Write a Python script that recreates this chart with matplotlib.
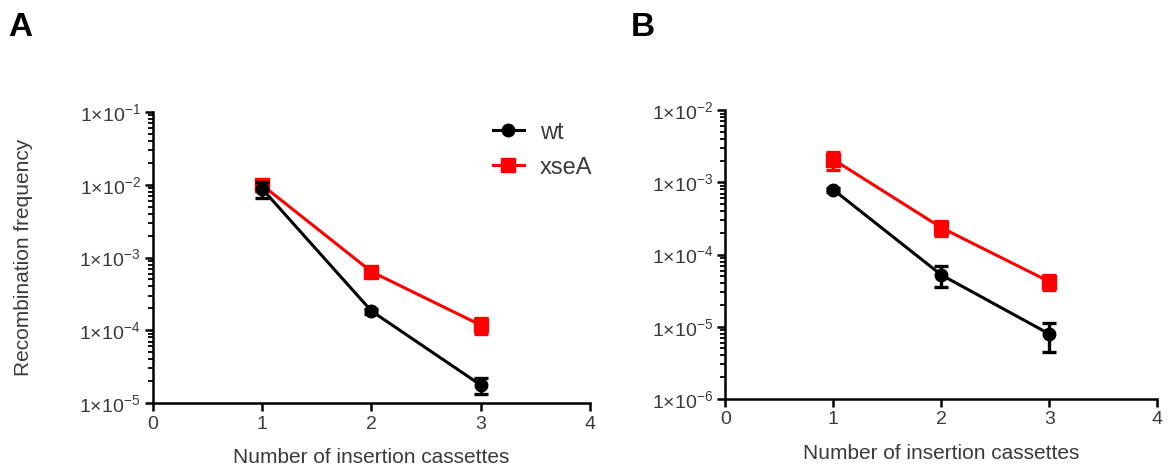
import math
import matplotlib
matplotlib.use("Agg")
import matplotlib.pyplot as plt
from matplotlib.ticker import LogLocator, FixedLocator, FuncFormatter, NullFormatter

plt.rcParams['font.family'] = ['Liberation Sans', 'DejaVu Sans']
plt.rcParams['mathtext.fontset'] = 'custom'
plt.rcParams['mathtext.rm'] = 'Liberation Sans'
plt.rcParams['mathtext.it'] = 'Liberation Sans'

x = [1, 2, 3]
series_names = ["wt", "xseA"]

# Panel A
a_wt = [8.8e-3, 1.84e-4, 1.77e-5]
a_wt_err = [2.2e-3, 1.5e-5, 4.2e-6]
a_xse = [9.9e-3, 6.4e-4, 1.18e-4]
a_xse_err = [1.8e-3, 6e-5, 3.0e-5]

# Panel B
b_wt = [7.9e-4, 5.2e-5, 7.9e-6]
b_wt_err = [5e-5, 1.7e-5, 3.5e-6]
b_xse = [2.07e-3, 2.35e-4, 4.2e-5]
b_xse_err = [6e-4, 5.5e-5, 1.0e-5]

xticks = [0, 1, 2, 3, 4]
a_ylim = (1e-5, 1e-1)
b_ylim = (1e-6, 1e-2)

TXT = '#3a3a3a'

fig = plt.figure(figsize=(11.68, 4.67), dpi=100)
axA = fig.add_axes([0.131, 0.137, 0.374, 0.623])
axB = fig.add_axes([0.621, 0.146, 0.370, 0.618])

def sci_fmt(v, pos):
    e = int(round(math.log10(v)))
    return r'$\mathregular{1{\times}10^{%d}}$' % e

def style(ax, ylim):
    ax.set_yscale('log')
    ax.set_ylim(*ylim)
    ax.set_xlim(0, 4)
    ax.xaxis.set_major_locator(FixedLocator(xticks))
    ax.yaxis.set_major_locator(LogLocator(base=10, numticks=10))
    ax.yaxis.set_minor_locator(LogLocator(base=10, subs=range(2, 10), numticks=20))
    ax.yaxis.set_major_formatter(FuncFormatter(sci_fmt))
    ax.yaxis.set_minor_formatter(NullFormatter())
    for s in ['top', 'right']:
        ax.spines[s].set_visible(False)
    for s in ['left', 'bottom']:
        ax.spines[s].set_linewidth(1.8)
        ax.spines[s].set_color('black')
    ax.tick_params(axis='both', which='major', direction='out', length=6, width=1.8,
                   labelsize=14, colors='black', labelcolor=TXT, pad=3)
    ax.tick_params(axis='y', which='minor', direction='out', length=3.5, width=1.3)
    ax.set_xlabel('Number of insertion cassettes', fontsize=15, color=TXT)
    ax.xaxis.set_label_coords(0.5, -0.155)
    ax.patch.set_visible(False)

def draw(ax, wt, wte, xs, xse):
    ax.errorbar(x, wt, yerr=wte, color='black', marker='o', markersize=9, lw=2.2,
                elinewidth=2.4, capsize=5, capthick=2.4, label=series_names[0], zorder=3)
    ax.errorbar(x, xs, yerr=xse, color='#ff0000', marker='s', markersize=10, lw=2.2,
                elinewidth=2.4, capsize=5, capthick=2.4, label=series_names[1], zorder=2)

draw(axA, a_wt, a_wt_err, a_xse, a_xse_err)
draw(axB, b_wt, b_wt_err, b_xse, b_xse_err)
style(axA, a_ylim)
style(axB, b_ylim)
axA.set_ylabel('Recombination frequency', fontsize=15, color=TXT)
axA.yaxis.set_label_coords(-0.275, 0.5)

h, l = axA.get_legend_handles_labels()
h = [hh[0] for hh in h]
axA.legend(h, l, loc='upper right', bbox_to_anchor=(1.055, 1.04), frameon=False, fontsize=17,
           handlelength=1.3, handletextpad=0.7, labelspacing=0.55, labelcolor=TXT)

fig.text(0.007, 0.975, 'A', fontsize=24, fontweight='bold', va='top', ha='left')
fig.text(0.54, 0.975, 'B', fontsize=24, fontweight='bold', va='top', ha='left')

fig.savefig('out.png', dpi=100)
